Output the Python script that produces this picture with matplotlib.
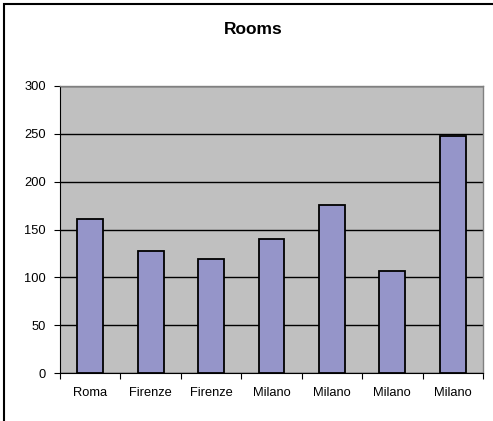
import matplotlib
matplotlib.use("Agg")
import matplotlib.pyplot as plt
from matplotlib.patches import Rectangle

plt.rcParams['font.family'] = ['Liberation Sans', 'DejaVu Sans']

cities = ["Roma", "Firenze", "Firenze", "Milano", "Milano", "Milano", "Milano"]
rooms = [161, 128, 119, 140, 176, 107, 248]
y_ticks = [0, 50, 100, 150, 200, 250, 300]

W, H = 493, 421
fig = plt.figure(figsize=(W / 100, H / 100), dpi=100)
fig.patch.set_facecolor("white")

# outer chart frame (runs off the right and bottom edges)
fig.patches.append(Rectangle((4 / W, -0.1), 1.2, 1 - 4 / H + 0.1,
                             transform=fig.transFigure, fill=False,
                             edgecolor="black", linewidth=1.5))

left, right, top, bottom = 60, 483, 85.7, 373.3
ax = fig.add_axes([left / W, 1 - bottom / H, (right - left) / W, (bottom - top) / H])
ax.set_facecolor("#C0C0C0")

x = list(range(len(cities)))
ax.bar(x, rooms, width=0.43, color="#9595C9", edgecolor="black", linewidth=1.3, zorder=3)

ax.set_xlim(-0.5, len(cities) - 0.5)
ax.set_ylim(0, 300)
ax.set_yticks(y_ticks)
ax.set_yticklabels([str(v) for v in y_ticks], fontsize=9.3)
ax.yaxis.grid(True, color="black", linewidth=1.0, zorder=1)
ax.set_axisbelow(True)

ax.set_xticks(x)
ax.set_xticklabels(cities, fontsize=9.3)
ax.tick_params(axis="x", length=0, pad=10)
ax.set_xticks([i + 0.5 for i in range(-1, len(cities))], minor=True)
ax.tick_params(axis="x", which="minor", length=4, width=0.8, direction="out")
ax.tick_params(axis="y", length=4, width=0.8, direction="out", pad=6)

for side in ("top", "right"):
    ax.spines[side].set_color("#808080")
    ax.spines[side].set_linewidth(1.0)
ax.spines["left"].set_color("black")
ax.spines["left"].set_linewidth(0.8)
ax.spines["bottom"].set_color("black")
ax.spines["bottom"].set_linewidth(0.8)

fig.text(253 / W, 1 - 30 / H, "Rooms", ha="center", va="center",
         fontsize=12.5, fontweight="bold")

fig.savefig("out.png", dpi=100)
